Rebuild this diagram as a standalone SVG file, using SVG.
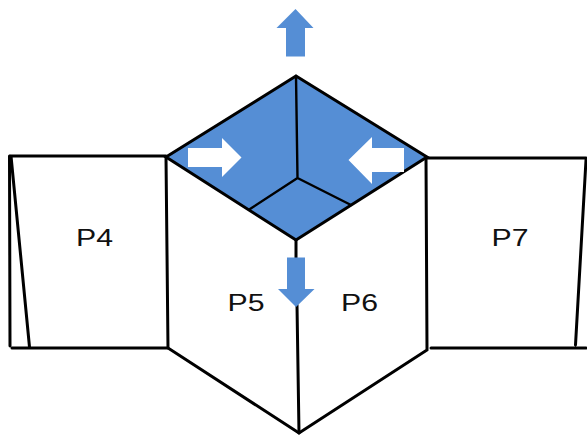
<svg xmlns="http://www.w3.org/2000/svg" width="587" height="436" viewBox="0 0 587 436">
<style>
.l{fill:none;stroke:#000;stroke-width:3;stroke-linecap:round}
.t{stroke-width:2.400}
.a{fill:#558ed5}
.w{fill:#fff}
text{font-family:"Liberation Sans",Arial,sans-serif;font-size:24px;fill:#111;text-anchor:middle}
</style>
<rect width="587" height="436" fill="#fff"/>
<polygon id="roof" class="a" points="296,76 427,157 296,240 166,157"/>
<g id="connectors">
<path class="l" d="M296,76 L427,157 L296,240 L166,157 Z"/>
<path class="l t" d="M296,76 L297.500,178 M297.500,178 L250,209 M297.500,178 L351,205"/>
<path class="l" d="M10,156 H166 M9.500,156 L10,346 M11,156 L29.500,347 M12,348 H168"/>
<path class="l" d="M166,157 L168,348 L299,433 L427,350 L426,157"/>
<path class="l" d="M296,240 V258 M297,305 L299,433"/>
<path class="l" d="M427,158 H586 M586,160 L575.500,345 M431,348 H586"/>
</g>
<g id="arrow-up"><polygon class="a" points="295.500,9 313.500,28 305,28 305,56.500 286,56.500 286,28 276.500,28"/></g>
<g id="arrow-down"><polygon class="a" points="287,257.500 305,257.500 305,289 314.500,289 296,307 278,289 287,289"/></g>
<g id="arrow-right"><polygon class="w" points="188,148 222,148 222,138 241.500,157.500 222,177 222,167 188,167"/></g>
<g id="arrow-left"><polygon class="w" points="404,148 372,148 372,137 348.500,160 372,184 372,172 404,172"/></g>
<g id="P4"><text x="94.500" y="246" textLength="37" lengthAdjust="spacingAndGlyphs">P4</text></g>
<g id="P5"><text x="246" y="311" textLength="37" lengthAdjust="spacingAndGlyphs">P5</text></g>
<g id="P6"><text x="359.500" y="311" textLength="37" lengthAdjust="spacingAndGlyphs">P6</text></g>
<g id="P7"><text x="510" y="246" textLength="37" lengthAdjust="spacingAndGlyphs">P7</text></g>
</svg>
